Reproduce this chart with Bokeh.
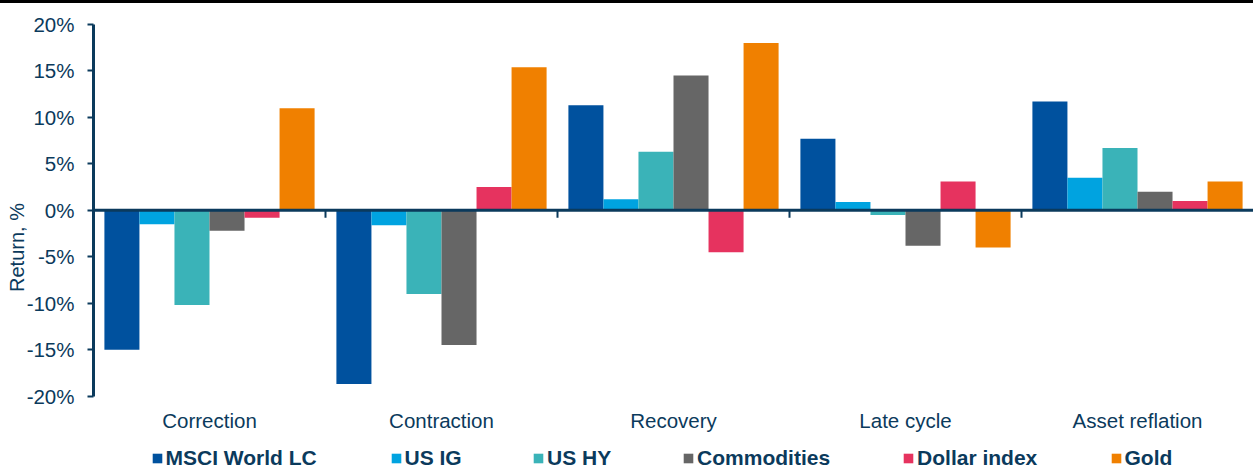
from bokeh.plotting import figure
from bokeh.models import (ColumnDataSource, Range1d, FactorRange, FixedTicker, PrintfTickFormatter,
                          Span, Legend, LegendItem, Div)
from bokeh.layouts import column
from bokeh.transform import dodge
from bokeh.core.properties import value
from bokeh.embed import file_html
from bokeh.resources import INLINE

categories = ["Correction", "Contraction", "Recovery", "Late cycle", "Asset reflation"]
series_names = ["MSCI World LC", "US IG", "US HY", "Commodities", "Dollar index", "Gold"]
msci = [-15.0, -18.7, 11.3, 7.7, 11.7]
us_ig = [-1.5, -1.6, 1.2, 0.9, 3.5]
us_hy = [-10.2, -9.0, 6.3, -0.5, 6.7]
commodities = [-2.2, -14.5, 14.5, -3.8, 2.0]
dollar_index = [-0.8, 2.5, -4.5, 3.1, 1.0]
gold = [11.0, 15.4, 18.0, -4.0, 3.1]
y_ticks = [-20, -15, -10, -5, 0, 5, 10, 15, 20]

colors = ["#00519E", "#00A3E0", "#3AB3B8", "#666666", "#E6335F", "#F08000"]
NAVY = "#0B3A5C"
FONT = "Liberation Sans"

source = ColumnDataSource(dict(cat=categories, msci=msci, us_ig=us_ig, us_hy=us_hy,
                               commodities=commodities, dollar_index=dollar_index, gold=gold))
fields = ["msci", "us_ig", "us_hy", "commodities", "dollar_index", "gold"]

# frame extends to the bottom so that the legend row sits inside it;
# the y axis itself is bounded to -20..20
p = figure(width=1253, height=467, x_range=FactorRange(factors=categories, range_padding=0),
           y_range=Range1d(-28.0, 20), output_backend="svg", toolbar_location=None,
           x_axis_location=None,
           min_border_left=93, min_border_right=0, min_border_top=21, min_border_bottom=0,
           margin=0)
p.outline_line_color = None
p.xgrid.grid_line_color = None
p.ygrid.grid_line_color = None
p.background_fill_color = "white"
p.border_fill_color = "white"

bw = 0.151
renderers = []
for i, f in enumerate(fields):
    off = (i - 2.5) * bw
    r = p.vbar(x=dodge("cat", off, range=p.x_range), top=f, bottom=0, width=bw,
               source=source, fill_color=colors[i], line_color=None)
    renderers.append(r)

# zero line and category boundary ticks
p.add_layout(Span(location=0, dimension="width", line_color=NAVY, line_width=3))
p.segment(x0=dodge("cat", -0.5, range=p.x_range), y0=0,
          x1=dodge("cat", -0.5, range=p.x_range), y1=-0.8,
          source=source, line_color=NAVY, line_width=2)

# category labels
p.text(x="cat", y=-22.6, text="cat", source=source, text_align="center",
       text_baseline="middle", text_font=value(FONT), text_font_size="20.5px",
       text_color=NAVY)

# y axis
ya = p.yaxis[0]
ya.bounds = (-20, 20)
ya.ticker = FixedTicker(ticks=y_ticks)
ya.formatter = PrintfTickFormatter(format="%d%%")
ya.axis_line_color = NAVY
ya.axis_line_width = 3
ya.major_tick_line_color = NAVY
ya.major_tick_line_width = 2
ya.major_tick_out = 6
ya.major_tick_in = 0
ya.minor_tick_line_color = None
ya.major_label_standoff = 13
ya.major_label_text_font = FONT
ya.major_label_text_font_size = "20.5px"
ya.major_label_text_color = NAVY
ya.axis_label = "Return, %"
ya.axis_label_text_font = FONT
ya.axis_label_text_font_size = "20px"
ya.axis_label_text_font_style = "normal"
ya.axis_label_text_color = NAVY
ya.axis_label_standoff = -4

# legend: one legend per series at its own position (inside the extended frame)
square_left = [151.7, 390.7, 533.3, 683.3, 903.3, 1110.7]
for i, r in enumerate(renderers):
    lg = Legend(items=[LegendItem(label=series_names[i], renderers=[r])],
                location=(square_left[i] - 1.2 - 93, 0), orientation="horizontal",
                padding=0, margin=0, spacing=0, border_line_color=None,
                background_fill_alpha=0, glyph_width=12, glyph_height=12,
                label_standoff=3, label_text_font=FONT, label_text_font_size="21px",
                label_text_font_style="bold", label_text_color=NAVY)
    p.add_layout(lg, "center")

top_bar = Div(width=1253, height=3, margin=0, styles={"background-color": "black"})
layout = column(top_bar, p, spacing=0, margin=0)

open("out.html", "w").write(file_html(layout, INLINE))
